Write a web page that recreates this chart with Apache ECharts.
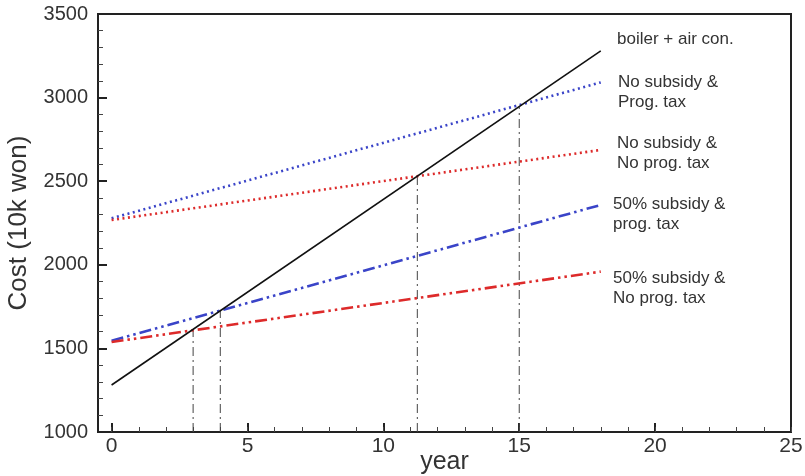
<!DOCTYPE html>
<html>
<head>
<meta charset="utf-8">
<script src="https://cdn.jsdelivr.net/npm/echarts@6/dist/echarts.min.js"></script>
<style>
  html, body { margin: 0; padding: 0; background: #fff; }
  #chart { width: 805px; height: 476px; }
</style>
</head>
<body>
<div id="chart"></div>
<script>
// line end points (year 0 and year 18)
const years = [0, 18];
const boilerAirCon = [1281, 3279];
const noSubProgTax = [2278, 3091];
const noSubNoProgTax = [2268, 2687];
const halfSubProgTax = [1546, 2358];
const halfSubNoProgTax = [1538, 1959];

// break-even drop lines
const crossYears = [3, 4, 11.25, 15];
const crossCosts = [1612, 1726, 2532, 2950];

const xMajorTicks = [0, 5, 10, 15, 20, 25];
const xMinorTicks = Array.from({ length: 26 }, (_, i) => i);

const seriesLabels = [
  "boiler + air con.",
  "No subsidy &\nProg. tax",
  "No subsidy &\nNo prog. tax",
  "50% subsidy &\nprog. tax",
  "50% subsidy &\nNo prog. tax",
];

const FONT = "'Liberation Sans', Arial, Helvetica, sans-serif";
const BLUE = "#3a44c8";
const RED = "#dd2a2a";

const pairs = (ys) => years.map((x, i) => [x, ys[i]]);
const plain = (v) => String(v);

const chart = echarts.init(document.getElementById("chart"));

const dropSeries = crossYears.map((x, i) => ({
  type: "line",
  data: [[x, 1000], [x, crossCosts[i]]],
  symbol: "none",
  silent: true,
  lineStyle: { color: "#444", width: 1, type: [9, 4, 2, 4] },
  z: 1,
}));

const labelTops = [29, 72, 133, 194, 268];
const labelLefts = [617, 618, 617, 613, 613];

chart.setOption({
  animation: false,
  backgroundColor: "#fff",
  grid: {
    left: 98,
    right: 14,
    top: 14,
    bottom: 44,
    outerBoundsMode: "none",
    containLabel: false,
    show: true,
    borderColor: "#222",
    borderWidth: 2,
  },
  xAxis: [
    {
      type: "value",
      min: -0.5,
      max: 25,
      position: "bottom",
      name: "year",
      nameLocation: "middle",
      nameGap: 18,
      nameMoveOverlap: false,
      nameTextStyle: { fontFamily: FONT, fontSize: 25, color: "#333", verticalAlign: "top" },
      axisLine: { onZero: false, lineStyle: { color: "#222", width: 2 } },
      axisTick: { inside: true, length: 9, customValues: xMajorTicks, lineStyle: { color: "#222", width: 2 } },
      axisLabel: { customValues: xMajorTicks, formatter: plain, fontFamily: FONT, fontSize: 21, color: "#333", margin: 4 },
      splitLine: { show: false },
    },
    {
      type: "value",
      min: -0.5,
      max: 25,
      position: "bottom",
      axisLine: { show: false, onZero: false },
      axisTick: { inside: true, length: 5, customValues: xMinorTicks, lineStyle: { color: "#444", width: 1 } },
      axisLabel: { show: false },
      splitLine: { show: false },
    },
  ],
  yAxis: {
    type: "value",
    min: 1000,
    max: 3500,
    interval: 500,
    name: "Cost (10k won)",
    nameLocation: "middle",
    nameGap: 66,
    nameMoveOverlap: false,
    nameTextStyle: { fontFamily: FONT, fontSize: 26, color: "#333" },
    axisLine: { onZero: false, lineStyle: { color: "#222", width: 2 } },
    axisTick: { inside: true, length: 9, lineStyle: { color: "#222", width: 2 } },
    minorTick: { show: true, splitNumber: 5, length: 5, lineStyle: { color: "#444", width: 1 } },
    axisLabel: { formatter: plain, fontFamily: FONT, fontSize: 20, color: "#333", margin: 10 },
    splitLine: { show: false },
  },
  series: [
    ...dropSeries,
    {
      name: seriesLabels[0],
      type: "line",
      data: pairs(boilerAirCon),
      symbol: "none",
      lineStyle: { color: "#111", width: 1.6, type: "solid" },
      z: 5,
    },
    {
      name: seriesLabels[1],
      type: "line",
      data: pairs(noSubProgTax),
      symbol: "none",
      lineStyle: { color: BLUE, width: 2.6, type: [2, 3.5] },
      z: 4,
    },
    {
      name: seriesLabels[2],
      type: "line",
      data: pairs(noSubNoProgTax),
      symbol: "none",
      lineStyle: { color: RED, width: 2.6, type: [2, 3.5] },
      z: 4,
    },
    {
      name: seriesLabels[3],
      type: "line",
      data: pairs(halfSubProgTax),
      symbol: "none",
      lineStyle: { color: BLUE, width: 2.6, type: [12, 4, 2.5, 4, 2.5, 4] },
      z: 4,
    },
    {
      name: seriesLabels[4],
      type: "line",
      data: pairs(halfSubNoProgTax),
      symbol: "none",
      lineStyle: { color: RED, width: 2.6, type: [12, 4, 2.5, 4, 2.5, 4] },
      z: 4,
    },
  ],
  graphic: seriesLabels.map((txt, i) => ({
    type: "text",
    left: labelLefts[i],
    top: labelTops[i],
    silent: true,
    style: {
      text: txt,
      fill: "#333",
      font: "17px " + FONT,
      lineHeight: 20,
    },
  })),
});
</script>
</body>
</html>
